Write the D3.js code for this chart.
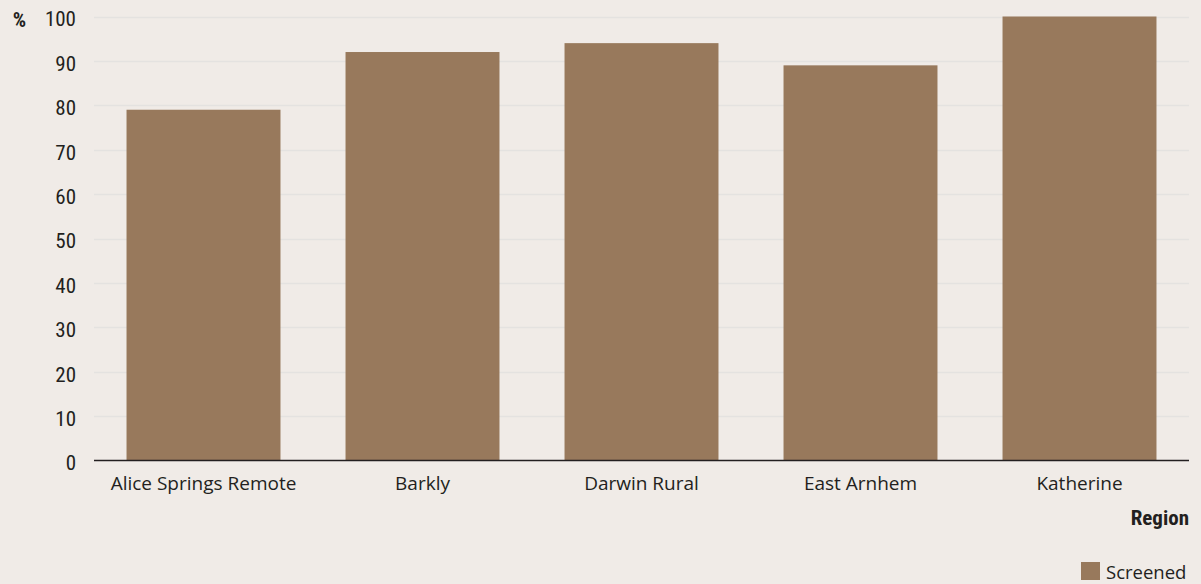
<!DOCTYPE html>
<html>
<head>
<meta charset="utf-8">
<script src="https://cdn.jsdelivr.net/npm/d3@7"></script>
<style>
  html, body { margin: 0; padding: 0; background: #f0ebe7; }
  svg { display: block; }
</style>
</head>
<body>
<svg id="chart" width="1201" height="584"></svg>
<script>
const categories = ["Alice Springs Remote", "Barkly", "Darwin Rural", "East Arnhem", "Katherine"];
const screened = [79, 92, 94, 89, 100];
const yTicks = [0, 10, 20, 30, 40, 50, 60, 70, 80, 90, 100];
const seriesName = "Screened";
const xTitle = "Region";
const yUnit = "%";

const W = 1201, H = 584;
const margin = { left: 94, right: 12, top: 16.5, bottom: 123.5 };
const svg = d3.select("#chart");
svg.append("rect").attr("width", W).attr("height", H).attr("fill", "#f0ebe7");

const x = d3.scaleBand().domain(categories).range([margin.left, W - margin.right]).paddingInner(0.297).paddingOuter(0.1485);
const y = d3.scaleLinear().domain([0, 100]).range([H - margin.bottom, margin.top]);

const numFont = "'Liberation Sans Narrow', 'Roboto Condensed', 'DejaVu Sans Condensed', sans-serif";
const labFont = "'Open Sans', 'Noto Sans', sans-serif";

// gridlines
svg.append("g").selectAll("line").data(yTicks.filter(d => d > 0)).join("line")
  .attr("x1", margin.left).attr("x2", W - margin.right)
  .attr("y1", d => Math.round(y(d)) + 0.5).attr("y2", d => Math.round(y(d)) + 0.5)
  .attr("stroke", "#e4e2e0").attr("stroke-width", 1.5);

// y axis labels
const yAxis = d3.axisLeft(y).tickValues(yTicks).tickSize(0).tickPadding(18);
const gy = svg.append("g").attr("transform", `translate(${margin.left},0)`).call(yAxis);
gy.select(".domain").remove();
gy.selectAll("text").attr("font-family", numFont).attr("font-size", 21).attr("font-weight", "normal")
  .attr("dy", "0.45em").attr("fill", "#231f20");

// bars
svg.append("g").selectAll("rect").data(categories).join("rect")
  .attr("x", d => x(d)).attr("width", x.bandwidth())
  .attr("y", (d, i) => y(screened[i]))
  .attr("height", (d, i) => y(0) - y(screened[i]))
  .attr("fill", "#98795c");

// baseline
svg.append("line").attr("x1", margin.left).attr("x2", W - margin.right)
  .attr("y1", y(0)).attr("y2", y(0)).attr("stroke", "#231f20").attr("stroke-width", 1.5);

// x axis labels
const xAxis = d3.axisBottom(x).tickSize(0).tickPadding(16);
const gx = svg.append("g").attr("transform", `translate(0,${y(0)})`).call(xAxis);
gx.select(".domain").remove();
gx.selectAll("text").attr("font-family", labFont).attr("font-size", 19).attr("fill", "#231f20");

// unit
svg.append("text").attr("x", 19.5).attr("y", 27).attr("text-anchor", "middle")
  .attr("font-family", numFont).attr("font-weight", "bold").attr("font-size", 21).attr("fill", "#231f20").text(yUnit);

// x title
svg.append("text").attr("x", W - margin.right).attr("y", 525).attr("text-anchor", "end")
  .attr("font-family", numFont).attr("font-weight", "bold").attr("font-size", 21).attr("fill", "#231f20").text(xTitle);

// legend
svg.append("rect").attr("x", 1081).attr("y", 562).attr("width", 19).attr("height", 18).attr("fill", "#98795c");
svg.append("text").attr("x", 1106).attr("y", 579).attr("font-family", labFont).attr("font-size", 18.5).attr("fill", "#231f20").text(seriesName);
</script>
</body>
</html>
